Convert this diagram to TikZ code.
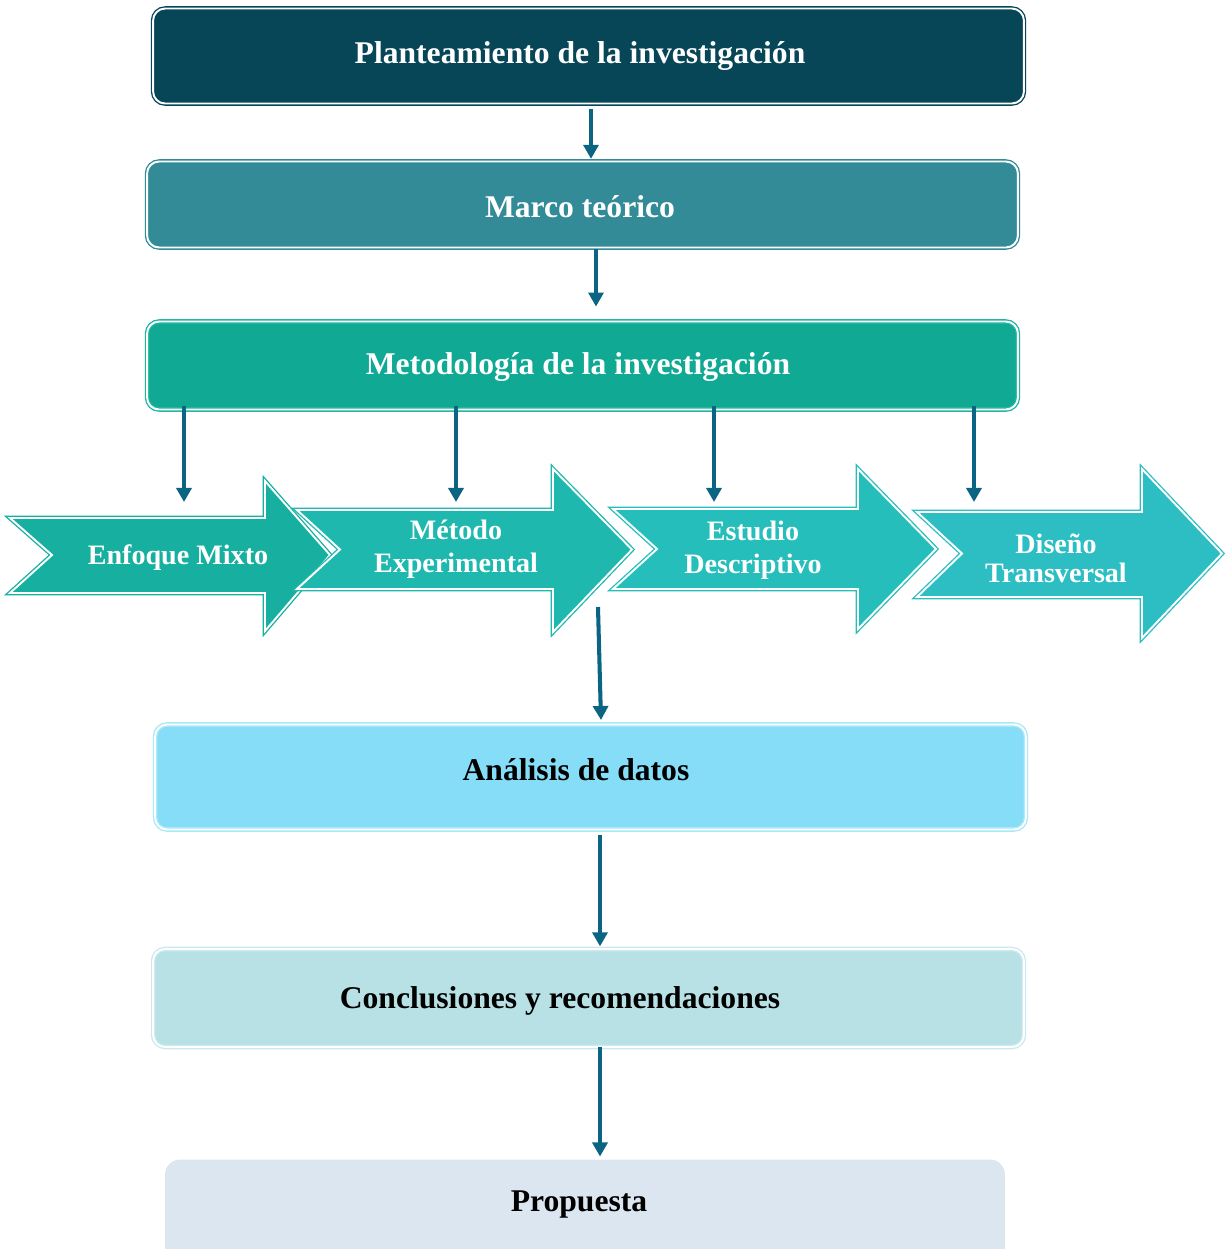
\documentclass[tikz,border=0pt]{standalone}
\usepackage{fontspec}
\setmainfont{Liberation Serif}
\usetikzlibrary{arrows.meta}
\definecolor{cA}{HTML}{064657}
\definecolor{cB}{HTML}{348B98}
\definecolor{cC}{HTML}{10A994}
\definecolor{cCb}{HTML}{22B5A2}
\definecolor{aA}{HTML}{17AF9F}
\definecolor{aB}{HTML}{1EB8AE}
\definecolor{aC}{HTML}{26BEBB}
\definecolor{aD}{HTML}{2DBEC4}
\definecolor{conn}{HTML}{0B6482}
\definecolor{anF}{HTML}{86DDF7}
\definecolor{anB}{HTML}{A8E8F8}
\definecolor{coF}{HTML}{B8E1E6}
\definecolor{coB}{HTML}{CBE9EE}
\definecolor{prF}{HTML}{DCE6F0}
\tikzset{
  x=0.02cm, y=-0.02cm,
  boxshape/.style={rectangle, rounded corners=0.24cm, inner sep=0pt, outer sep=0pt,
    minimum width=17.42cm, double=white, double distance=1.1pt, line width=0.75pt},
  arrowshape/.style={double=white, double distance=1.1pt, line width=0.75pt, line join=miter},
  wtxt/.style={text=white, font=\fontsize{18}{21}\selectfont\bfseries, inner sep=0pt},
  btxt/.style={text=black, font=\fontsize{18}{21}\selectfont\bfseries, inner sep=0pt},
  atxt/.style={text=white, font=\fontsize{16}{18.7}\selectfont\bfseries, inner sep=0pt, align=center},
  connector/.style={draw=conn, line width=2.3pt, -{Triangle[length=8pt,width=8.5pt]}},
}
\begin{document}
\begin{tikzpicture}
\useasboundingbox (0,0) rectangle (1225,1249);
% boxes
\node[boxshape, fill=cA, draw=cA, minimum height=1.9cm] (b1) at (588.5,56) {};
\node[wtxt] (t1) at (580,55.5) {Planteamiento de la investigación};
\node[boxshape, fill=cB, draw=cB, minimum height=1.72cm] (b2) at (582.5,204.5) {};
\node[wtxt] (t2) at (580,206.5) {Marco teórico};
\node[boxshape, fill=cC, draw=cCb, minimum height=1.76cm] (b3) at (582.5,365.5) {};
\node[wtxt] (t3) at (578,366.5) {Metodología de la investigación};
\node[boxshape, fill=anF, draw=anB, minimum height=2.1cm] (b4) at (590.5,777) {};
\node[btxt] (t4) at (576,769.5) {Análisis de datos};
\node[boxshape, fill=coF, draw=coB, minimum height=1.96cm] (b5) at (588.5,998) {};
\node[btxt] (t5) at (560,1000.5) {Conclusiones y recomendaciones};
\node[rectangle, rounded corners=0.3cm, fill=prF, minimum width=16.8cm, minimum height=2.06cm, inner sep=0pt] (b6) at (585,1211) {};
\node[btxt] (t6) at (579,1204.5) {Propuesta};
% chevron arrows
\draw[arrowshape, fill=aA, draw=aA] (10,518) -- (265,518) -- (265,481) -- (330,555) -- (265,631) -- (265,593) -- (10,593) -- (52,555) -- cycle;
\draw[arrowshape, fill=aB, draw=aB] (297,510) -- (553,510) -- (553,469) -- (632,549.5) -- (553,632) -- (553,589) -- (297,589) -- (340,549.5) -- cycle;
\draw[arrowshape, fill=aC, draw=aC] (613,509) -- (858,509) -- (858,469) -- (936,549) -- (858,629) -- (858,589) -- (613,589) -- (657,549) -- cycle;
\draw[arrowshape, fill=aD, draw=aD] (917,512) -- (1142,512) -- (1142,469) -- (1222,553.5) -- (1142,638) -- (1142,597) -- (917,597) -- (962,553.5) -- cycle;
\node[atxt] (a1) at (178,557.5) {Enfoque Mixto};
\node[atxt] (a2) at (456,549.5) {Método\\Experimental};
\node[atxt] (a3) at (753,550.5) {Estudio\\Descriptivo};
\node[atxt, font=\fontsize{16}{16.2}\selectfont\bfseries] (a4) at (1056,558.5) {Diseño\\Transversal};
% coordinates
\coordinate (x12) at (591,0);
\coordinate (x23) at (596,0);
\coordinate (x45) at (600,0);
\coordinate (d1) at (184,502);
\coordinate (d2) at (456,502);
\coordinate (d3) at (714,502);
\coordinate (d4) at (974,502);
\coordinate (s2) at (598,607);
\coordinate (e2) at (601,720);
% connectors
\draw[connector] ([yshift=-3pt]b1.south -| x12) -- ([yshift=1.5pt]b2.north -| x12);
\draw[connector] ([yshift=-1pt]b2.south -| x23) -- ([yshift=8.5pt]b3.north -| x23);
\draw[connector] ([yshift=2pt]b3.south -| d1) -- (d1);
\draw[connector] ([yshift=2pt]b3.south -| d2) -- (d2);
\draw[connector] ([yshift=2pt]b3.south -| d3) -- (d3);
\draw[connector] ([yshift=2pt]b3.south -| d4) -- (d4);
\draw[connector] (s2) -- (e2);
\draw[connector] ([yshift=-3pt]b4.south -| x45) -- ([yshift=1.5pt]b5.north -| x45);
\draw[connector] (b5.south -| x45) -- ([yshift=1.5pt]b6.north -| x45);
\end{tikzpicture}
\end{document}
